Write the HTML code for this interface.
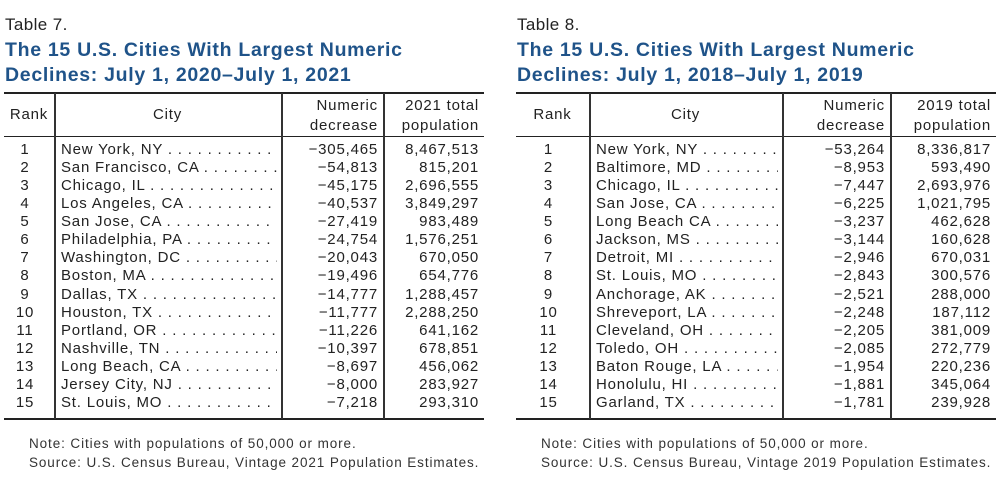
<!DOCTYPE html>
<html><head><meta charset="utf-8">
<style>
body{margin:0;width:1000px;height:483px;background:#fff;font-family:"Liberation Sans",sans-serif;color:#222;position:relative;overflow:hidden}
.a{position:absolute;white-space:nowrap}
.lab{font-size:17px;letter-spacing:0.4px;color:#222}
.ttl{font-size:19.5px;letter-spacing:0.7px;font-weight:bold;color:#1f5389;line-height:25px}
.hl{position:absolute;height:2px;background:#222}
.hl1{position:absolute;height:1px;background:#222}
.vl{position:absolute;width:1.5px;background:#333}
.c{font-size:15px;letter-spacing:0.8px;line-height:18px}
.note{font-size:13.5px;letter-spacing:0.9px;line-height:19px;color:#333}
.city{overflow:hidden}
</style></head><body>
<div id="root"></div>
<script>
const ranks=[1,2,3,4,5,6,7,8,9,10,11,12,13,14,15];
const cities7=["New York, NY","San Francisco, CA","Chicago, IL","Los Angeles, CA","San Jose, CA","Philadelphia, PA","Washington, DC","Boston, MA","Dallas, TX","Houston, TX","Portland, OR","Nashville, TN","Long Beach, CA","Jersey City, NJ","St. Louis, MO"];
const decrease7=["−305,465","−54,813","−45,175","−40,537","−27,419","−24,754","−20,043","−19,496","−14,777","−11,777","−11,226","−10,397","−8,697","−8,000","−7,218"];
const pop7=["8,467,513","815,201","2,696,555","3,849,297","983,489","1,576,251","670,050","654,776","1,288,457","2,288,250","641,162","678,851","456,062","283,927","293,310"];
const cities8=["New York, NY","Baltimore, MD","Chicago, IL","San Jose, CA","Long Beach CA","Jackson, MS","Detroit, MI","St. Louis, MO","Anchorage, AK","Shreveport, LA","Cleveland, OH","Toledo, OH","Baton Rouge, LA","Honolulu, HI","Garland, TX"];
const decrease8=["−53,264","−8,953","−7,447","−6,225","−3,237","−3,144","−2,946","−2,843","−2,521","−2,248","−2,205","−2,085","−1,954","−1,881","−1,781"];
const pop8=["8,336,817","593,490","2,693,976","1,021,795","462,628","160,628","670,031","300,576","288,000","187,112","381,009","272,779","220,236","345,064","239,928"];

const root=document.getElementById('root');
function mk(tag,cls,style,text){const e=document.createElement(tag);e.className=cls;e.style.cssText=style;if(text!==undefined)e.textContent=text;root.appendChild(e);return e;}

function table(o){
  const t=mk('div','a lab',`left:${o.x+1}px;top:15px`,o.label);
  
  
  const ti=mk('div','a ttl',`left:${o.x+1}px;top:38px`);
  ti.innerHTML=o.title;
  
  
  const L=o.x, R=o.r, v1=o.v1, v2=o.v2, v3=o.v3;
  const top=mk('div','hl',`left:${L}px;top:92px;width:${R-L}px`);
  
  
  const hb=mk('div','hl1',`left:${L}px;top:135.5px;width:${R-L}px;height:1.5px`);
  
  
  const bot=mk('div','hl',`left:${L}px;top:418px;width:${R-L}px`);
  
  
  [v1,v2,v3].forEach(v=>{const e=mk('div','vl',`left:${v}px;top:93px;height:326px`);
    
    });
  const h1=mk('div','a c',`left:${L}px;width:${v1-L}px;top:106px;text-align:center`,'Rank');
  
  const h2=mk('div','a c',`left:${v1}px;width:${v2-v1}px;top:106px;text-align:center`,'City');
  
  const h3=mk('div','a c',`left:${v2}px;width:${v3-v2-5}px;top:96px;text-align:right;line-height:20px`);
  h3.innerHTML='Numeric<br>decrease';
  
  const h4=mk('div','a c',`left:${v3}px;width:${R-v3-5}px;top:96px;text-align:right;line-height:20px`);
  h4.innerHTML=o.popHead;
  
  const rowH=18.07, y0=141;
  for(let i=0;i<ranks.length;i++){
    const y=y0+i*rowH;
    const r=mk('div','a c',`left:${L}px;width:${v1-L-8}px;top:${y}px;text-align:center`,String(ranks[i]));
    
    const c=mk('div','a c city',`left:${v1+7}px;width:${v2-v1-11}px;top:${y}px`,o.cities[i]+' . . . . . . . . . . . . . . . . . . . . . . . . . . . . .');
    
    const d=mk('div','a c',`left:${v2}px;width:${v3-v2-5}px;top:${y}px;text-align:right`,o.dec[i]);
    
    const p=mk('div','a c',`left:${v3}px;width:${R-v3-5}px;top:${y}px;text-align:right`,o.pop[i]);
    
  }
  const n=mk('div','a note',`left:${L+25}px;top:434px`);
  n.innerHTML='Note: Cities with populations of 50,000 or more.<br>Source: U.S. Census Bureau, Vintage '+o.year+' Population Estimates.';
  
}
table({x:4,r:484,v1:54,v2:281,v3:383,label:'Table 7.',title:'The 15 U.S. Cities With Largest Numeric<br>Declines: July 1, 2020–July 1, 2021',popHead:'2021 total<br>population',cities:cities7,dec:decrease7,pop:pop7,year:'2021'});
table({x:516,r:996,v1:589,v2:782,v3:890,label:'Table 8.',title:'The 15 U.S. Cities With Largest Numeric<br>Declines: July 1, 2018–July 1, 2019',popHead:'2019 total<br>population',cities:cities8,dec:decrease8,pop:pop8,year:'2019'});
</script>
</body></html>
